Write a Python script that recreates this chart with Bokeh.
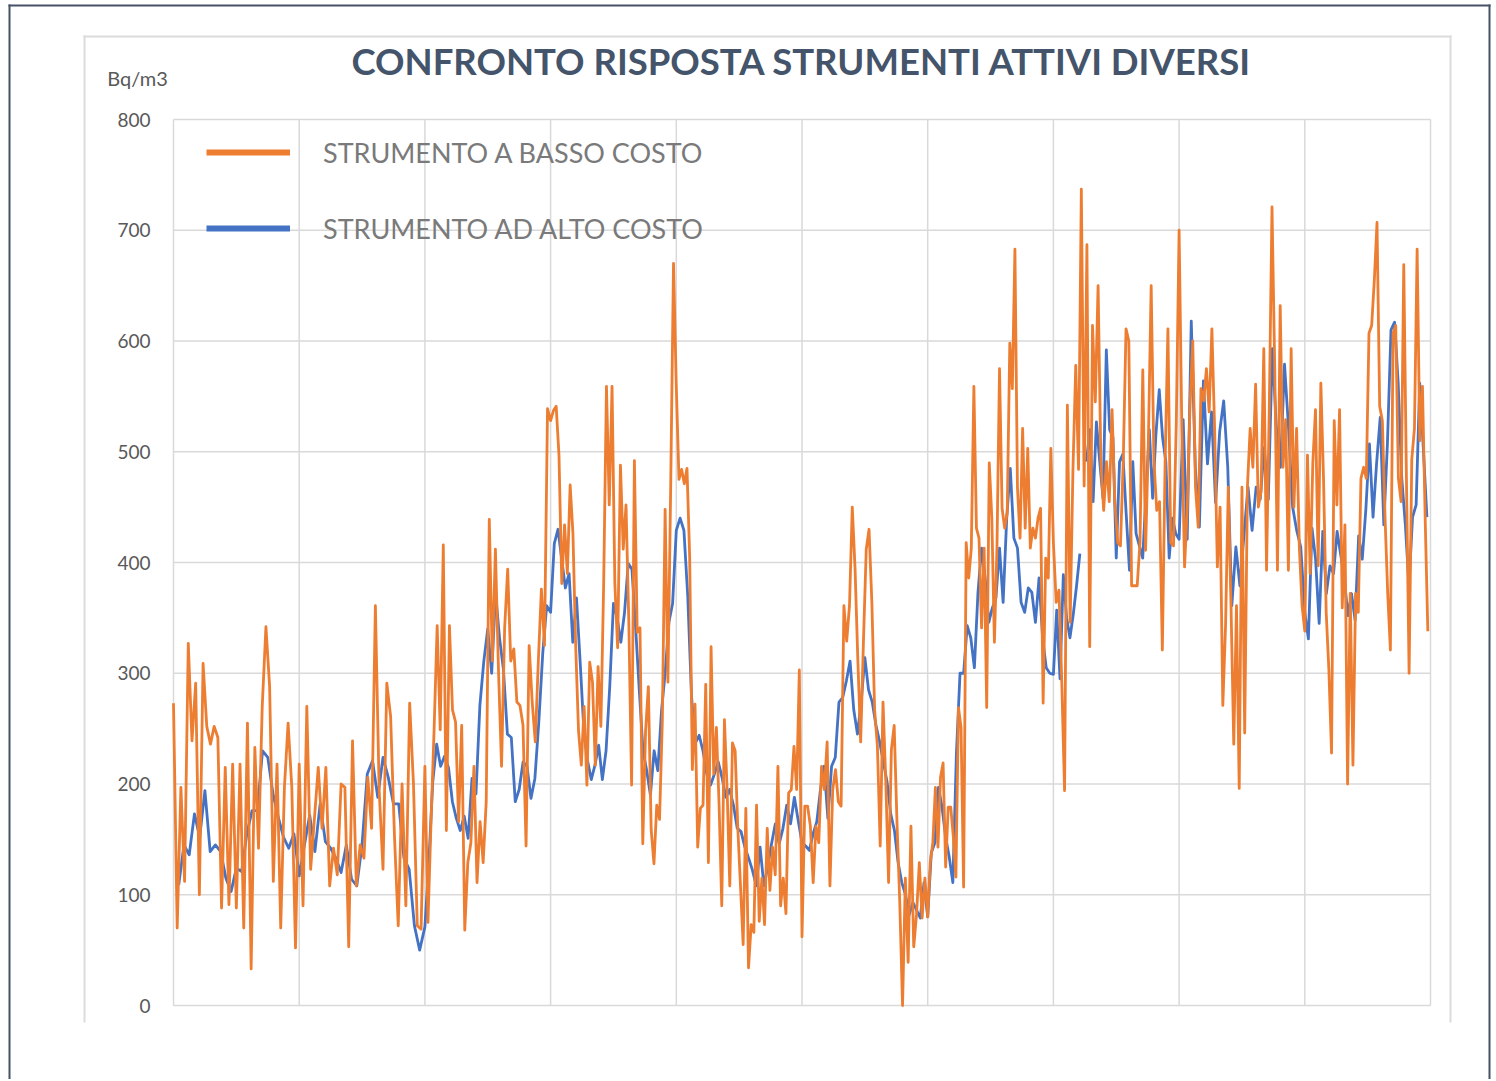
import numpy as np
from bokeh.plotting import figure
from bokeh.models import (Range1d, Legend, LegendItem, Label, BoxAnnotation,
                          ColumnDataSource)
from bokeh.core.properties import value
from bokeh.embed import file_html
from bokeh.resources import INLINE

NAN = float("nan")

TITLE = "CONFRONTO RISPOSTA STRUMENTI ATTIVI DIVERSI"
UNIT = "Bq/m3"
LABEL_BASSO = "STRUMENTO A BASSO COSTO"
LABEL_ALTO = "STRUMENTO AD ALTO COSTO"
Y_TICKS = [0, 100, 200, 300, 400, 500, 600, 700, 800]
Y_TICK_LABELS = ["0", "100", "200", "300", "400", "500", "600", "700", "800"]
X_GRID = [0, 10, 20, 30, 40, 50, 60, 70, 80, 90, 100]

# Bq/m3 readings, one list per grid interval (10 intervals)
BASSO_01 = [273, 70, 197, 112, 327, 239, 291, 100, 309, 252, 236, 252, 242, 88, 215, 91, 218, 88, 218, 70, 255, 33, 233, 142, 270, 342, 288, 112, 218, 70, 197, 255, 197, 52]
BASSO_02 = [218, 90, 270, 123, 169, 215, 160, 215, 108, 142, 118, 200, 197, 53, 239, 108, 145, 133, 206, 160, 361, 194, 123, 291, 261, 154, 72, 200, 90, 273, 200, 72, 69]
BASSO_03 = [216, 75, 166, 249, 343, 249, 416, 158, 343, 267, 256, 166, 253, 68, 129, 147, 216, 111, 166, 129, 184, 439, 311, 412, 303, 216, 340, 394, 311, 322, 274, 271, 253, 144, 325, 274, 238, 311, 376, 325, 539]
BASSO_04 = [528, 537, 541, 497, 381, 434, 390, 470, 426, 323, 248, 217, 270, 199, 310, 292, 217, 306, 252, 381, 559, 452, 559, 381, 323, 488, 412, 452, 346, 199, 492, 337, 341, 146, 248, 288, 159, 128, 181, 168, 257, 448, 292, 470, 670]
BASSO_05 = [559, 475, 484, 471, 485, 405, 213, 272, 143, 178, 181, 290, 129, 324, 209, 251, 181, 90, 258, 195, 108, 237, 230, 160, 108, 55, 178, 34, 73, 66, 181, 76, 115, 73, 160, 104, 143, 118, 216, 90, 115, 83, 192, 195, 234, 195, 303]
BASSO_06 = [62, 180, 180, 162, 111, 162, 147, 216, 195, 238, 108, 195, 213, 184, 180, 361, 329, 361, 450, 394, 311, 238, 329, 412, 430, 365, 267, 234, 144, 274, 202, 111, 231, 253, 166, 93, 0, 115, 39, 162, 53, 82, 129, 79, 115]
BASSO_07 = [80, 129, 147, 197, 143, 206, 219, 125, 179, 179, 152, 116, 269, 251, 107, 418, 386, 413, 559, 431, 422, 341, 413, 269, 490, 440, 328, 413, 575, 449, 431, 445, 598, 557, 683, 467, 422, 521, 431, 503, 413, 431, 422, 440, 449, 273, 404, 386, 503]
BASSO_08 = [418, 364, 375, 292, 194, 542, 346, 484, 578, 484, 737, 469, 687, 324, 614, 545, 650, 491, 447, 491, 455, 538, 455, 418, 415, 491, 611, 600, 379, 379, 379, 418, 574, 411, 509, 650, 491, 447, 455, 321, 491, 611, 418, 415, 527]
BASSO_09 = [700, 521, 396, 450, 543, 600, 468, 432, 557, 546, 575, 536, 611, 521, 396, 450, 271, 343, 468, 361, 236, 361, 196, 468, 246, 468, 521, 486, 561, 450, 464, 593, 393, 539, 721, 575, 393, 632, 486, 529, 393, 593, 450, 521, 414, 361]
BASSO_10 = [338, 497, 390, 490, 538, 397, 562, 476, 355, 303, 228, 528, 452, 538, 359, 434, 200, 372, 217, 372, 355, 476, 486, 476, 607, 614, 655, 707, 541, 528, 441, 372, 321, 607, 614, 476, 455, 669, 476, 300, 493, 521, 683, 510, 559, 441, 338]

ALTO_01 = [NAN, 109, 145, 136, 173, 152, 194, 139, 145, 139, 115, 103, 124, 121, 155, 176, 176, 230, 224, 191, 170, 152, 142, 155]
ALTO_02 = [117, 145, 172, 139, 182, 148, 142, 133, 120, 145, 114, 108, 145, 209, 221, 188, 224, 206, 182, 182, 133, 123, 72, 50]
ALTO_03 = [71, 129, 202, 236, 216, 225, 215, 184, 169, 158, 171, 151, 205, 191, 271, 311, 340, 300, 372, 332, 303, 245, 242, 184, 195, 220, 216, 187, 205, 256, 318, 361]
ALTO_04 = [355, 417, 430, 403, 377, 390, 328, 368, 310, 248, 221, 204, 217, 235, 204, 230, 288, 363, 350, 328, 355, 399, 394, 341, 284, 230, 212, 190, 230, 212, 266, 301, 346, 363]
ALTO_05 = [429, 440, 429, 370, 279, 237, 244, 230, 209, 199, 209, 220, 206, 188, 195, 181, 160, 157, 143, 133, 122, 108, 143, 108, 125, 146, 164, 146, 160, 181, 164, 188, 167]
ALTO_06 = [147, 144, 140, 155, 166, 195, 216, 169, 216, 224, 274, 278, 293, 311, 267, 245, 274, 314, 285, 274, 253, 238, 220, 202, 173, 158, 129, 111, 100, 82, 93, 86, 79, 111]
ALTO_07 = [80, 138, 147, 197, 179, 152, 134, 111, 228, 300, 300, 343, 332, 305, 373, 413, 386, 346, 359, 368, 413, 364, 440, 485, 422, 413, 364, 355, 377, 373, 346, 386, 332, 305, 300]
ALTO_08 = [299, 357, 295, 389, 350, 332, 353, 379, 408, NAN, 491, 520, 455, 527, 491, 458, 592, 520, 513, 404, 491, 498, 444, 393, 491, 426, 415, 404, 462, 520, 458, 516, 556, 513, 491, 404, 440, 426]
ALTO_09 = [421, 529, 421, 618, 486, 432, 564, 489, 536, 454, 518, 546, 486, 361, 414, 379, 425, 468, 429, 468, 457, 504, 457, 593, 521, 486, 579, 521, 450, 429, 414]
ALTO_10 = [355, 331, 431, 403, 345, 428, 372, 397, 390, 428, 407, 386, 352, 372, 348, 424, 403, 448, 507, 441, 490, 531, 434, 507, 610, 617, 562, 476, 434, 379, 441, 452, 562, 503, 441]

BASSO = [BASSO_01, BASSO_02, BASSO_03, BASSO_04, BASSO_05,
         BASSO_06, BASSO_07, BASSO_08, BASSO_09, BASSO_10]
ALTO = [ALTO_01, ALTO_02, ALTO_03, ALTO_04, ALTO_05,
        ALTO_06, ALTO_07, ALTO_08, ALTO_09, ALTO_10]


def build(segments):
    xs, ys = [], []
    for k, seg in enumerate(segments):
        n = len(seg)
        for i, v in enumerate(seg):
            xs.append(10 * k + 10 * i / n)
            ys.append(v)
    return np.array(xs, dtype=float), np.array(ys, dtype=float)


xo, yo = build(BASSO)
xb, yb = build(ALTO)

# ---- layout (canvas pixels) ----
W, H = 1494, 1079
PL, PR, PT, PB = 173, 1430, 119, 1005      # plotting area
XMIN, XMAX, YMIN, YMAX = 0, 100, 0, 800
UX = (XMAX - XMIN) / (PR - PL)
UY = (YMAX - YMIN) / (PB - PT)


def dx(px):
    return XMIN + (px - PL) * UX


def dy(py):
    return YMIN + (PB - py) * UY


FONT = "Lato"
GRID = "#d9d9d9"

p = figure(width=W, height=H,
           x_range=Range1d(dx(0), dx(W)), y_range=Range1d(dy(H), dy(0)),
           output_backend="svg", toolbar_location=None,
           min_border=0, min_border_left=0, min_border_right=0,
           min_border_top=0, min_border_bottom=0)
p.axis.visible = False
p.grid.visible = False
p.outline_line_color = None
p.background_fill_color = "white"
p.border_fill_color = "white"

# grid lines from the tick lists
p.segment(x0=[XMIN] * len(Y_TICKS), x1=[XMAX] * len(Y_TICKS), y0=Y_TICKS, y1=Y_TICKS,
          line_color=GRID, line_width=1.5)
p.segment(x0=X_GRID, x1=X_GRID, y0=[YMIN] * len(X_GRID), y1=[YMAX] * len(X_GRID),
          line_color=GRID, line_width=1.5)

# y tick labels
p.text(x=[dx(150)] * len(Y_TICKS), y=Y_TICKS, text=Y_TICK_LABELS,
       text_align="right", text_baseline="middle",
       text_font=value(FONT), text_font_size="19px", text_color="#595959")

src_b = ColumnDataSource(dict(x=xb, y=yb))
src_o = ColumnDataSource(dict(x=xo, y=yo))
p.line("x", "y", source=src_b, line_color="#4472c4", line_width=2.8, line_join="round")
p.line("x", "y", source=src_o, line_color="#ed7d31", line_width=2.8, line_join="round")

leg_o = p.line(x=[NAN], y=[NAN], line_color="#ed7d31", line_width=6)
leg_b = p.line(x=[NAN], y=[NAN], line_color="#4472c4", line_width=6)
legend = Legend(items=[LegendItem(label=LABEL_BASSO, renderers=[leg_o]),
                       LegendItem(label=LABEL_ALTO, renderers=[leg_b])],
                location=(206, H - 248), glyph_width=84, glyph_height=40,
                label_standoff=33, spacing=36, padding=0, margin=0,
                label_text_font=FONT, label_text_font_size="27px",
                label_text_color="#7a7a7a",
                background_fill_alpha=0, border_line_alpha=0)
p.add_layout(legend)

p.add_layout(Label(x=(XMIN + XMAX) / 2, y=dy(60), text=TITLE,
                   text_align="center", text_baseline="middle",
                   text_font=FONT, text_font_style="bold", text_font_size="36.5px",
                   text_color="#44546a"))
p.add_layout(Label(x=dx(137), y=dy(77), text=UNIT,
                   text_align="center", text_baseline="middle",
                   text_font=FONT, text_font_size="20px", text_color="#595959"))


def edge(l, r, t, b, color):
    return BoxAnnotation(left=dx(l), right=dx(r), top=dy(t), bottom=dy(b),
                         fill_color=color, fill_alpha=1, line_alpha=0)


# light chart box (open at the bottom)
for box in [(83, 85, 35, 1022), (83, 1451, 35, 37), (1449, 1451, 35, 1022)]:
    p.add_layout(edge(*box, "#dcdcdc"))
# dark page frame
for box in [(8, 10, 4, H), (8, 1490, 4, 6), (1488, 1490, 4, H)]:
    p.add_layout(edge(*box, "#465366"))

open("out.html", "w").write(file_html(p, INLINE))
